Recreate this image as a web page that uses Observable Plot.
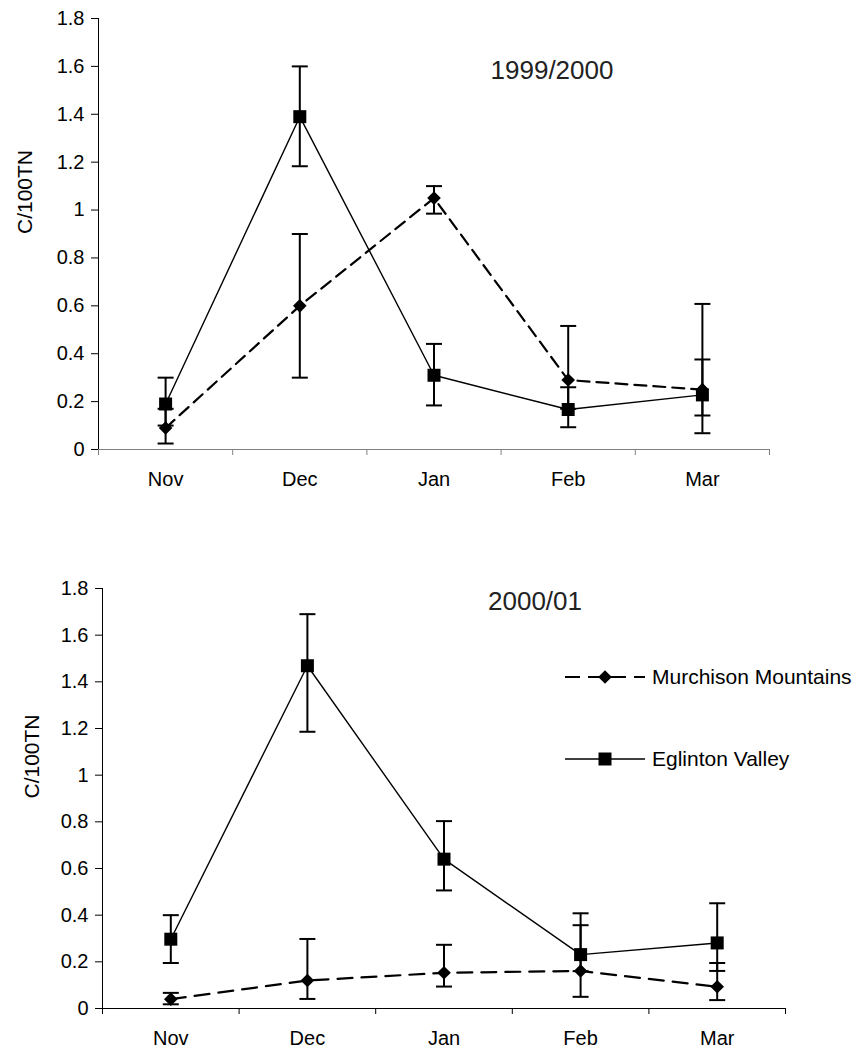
<!DOCTYPE html>
<html><head><meta charset="utf-8">
<script src="https://cdn.jsdelivr.net/npm/d3@7"></script>
<script src="https://cdn.jsdelivr.net/npm/@observablehq/plot@0.6"></script>
<style>
body{margin:0;background:#fff;}
#wrap{position:relative;width:856px;height:1052px;font-family:"Liberation Sans",Arial,sans-serif;}
#wrap svg{display:block;}
.legend{position:absolute;left:565px;top:657px;font-size:21px;color:#000;}
.legend .row{display:flex;align-items:center;height:40px;}
.legend .row + .row{margin-top:42px;}
.legend .row span{margin-left:7px;}
</style></head><body><div id="wrap"></div>
<script>
const months = ["Nov","Dec","Jan","Feb","Mar"];
const yTicks = [0,0.2,0.4,0.6,0.8,1,1.2,1.4,1.6,1.8];
const seriesNames = ["Murchison Mountains","Eglinton Valley"];
const yLabel = "C/100TN";

// 1999/2000
const title1 = "1999/2000";
const murch1 = [0.09,0.60,1.05,0.29,0.25];
const murch1Lo = [0.025,0.30,0.985,0.17,0.142];
const murch1Hi = [0.17,0.90,1.10,0.516,0.608];
const eglin1 = [0.19,1.39,0.31,0.167,0.228];
const eglin1Lo = [0.10,1.183,0.184,0.093,0.068];
const eglin1Hi = [0.30,1.60,0.441,0.26,0.376];

// 2000/01
const title2 = "2000/01";
const murch2 = [0.04,0.12,0.153,0.161,0.093];
const murch2Lo = [0.018,0.041,0.094,0.05,0.036];
const murch2Hi = [0.067,0.298,0.273,0.357,0.195];
const eglin2 = [0.297,1.469,0.64,0.231,0.281];
const eglin2Lo = [0.195,1.186,0.506,0.16,0.161];
const eglin2Hi = [0.40,1.69,0.803,0.408,0.451];

const capSym = {draw(ctx){ ctx.moveTo(-8,0); ctx.lineTo(8,0); }};
const squareSym = {draw(ctx){ const h=6.5; ctx.rect(-h,-h,2*h,2*h); }};
const diamondSym = {draw(ctx){ const h=6.8; ctx.moveTo(0,-h); ctx.lineTo(h,0); ctx.lineTo(0,h); ctx.lineTo(-h,0); ctx.closePath(); }};

function panel(o){
  const rows = [];
  months.forEach((m,i)=>{
    rows.push({series:seriesNames[0], xi:i+0.5, v:o.murch[i], lo:o.murchLo[i], hi:o.murchHi[i]});
    rows.push({series:seriesNames[1], xi:i+0.5, v:o.eglin[i], lo:o.eglinLo[i], hi:o.eglinHi[i]});
  });
  const M = rows.filter(d=>d.series===seriesNames[0]);
  const E = rows.filter(d=>d.series===seriesNames[1]);
  return Plot.plot({
    width:856, height:o.height,
    marginTop:o.mt, marginBottom:o.mb, marginLeft:o.ml, marginRight:o.mr,
    x:{type:"linear", domain:[0,months.length]},
    y:{type:"linear", domain:[0,1.8]},
    style:{fontFamily:'"Liberation Sans",Arial,sans-serif', fontSize:"20px", color:"#000", background:"#fff", overflow:"visible"},
    marks:[
      Plot.axisY({ticks:yTicks, tickSize:7, tickPadding:7, tickFormat:d3.format("~g"), fontSize:20, label:null, stroke:"#000"}),
      Plot.axisX({ticks:d3.range(months.length+1), tickSize:6, tickFormat:()=>"", label:null, stroke:o.xColor}),
      Plot.axisX({ticks:months.map((m,i)=>i+0.5), tickSize:0, tickPadding:22, tickFormat:d=>months[Math.floor(d)], fontSize:20, label:null}),
      Plot.frame({anchor:"left", stroke:"#000"}),
      Plot.frame({anchor:"bottom", stroke:o.xColor}),
      Plot.text([o.title], {frameAnchor:"top", dx:o.tdx, dy:o.tdy, fontSize:26, fill:"#222"}),
      Plot.text([yLabel], {frameAnchor:"left", rotate:-90, dx:o.ldx, fontSize:21}),
      Plot.line(M, {x:"xi", y:"v", stroke:"#000", strokeWidth:2.2, strokeDasharray:o.dash}),
      Plot.line(E, {x:"xi", y:"v", stroke:"#000", strokeWidth:1.4}),
      Plot.ruleX(rows, {x:"xi", y1:"lo", y2:"hi", stroke:"#000", strokeWidth:2}),
      Plot.dot(rows, {x:"xi", y:"lo", symbol:capSym, fill:"none", stroke:"#000", strokeWidth:2}),
      Plot.dot(rows, {x:"xi", y:"hi", symbol:capSym, fill:"none", stroke:"#000", strokeWidth:2}),
      Plot.dot(M, {x:"xi", y:"v", symbol:diamondSym, fill:"#000", stroke:"none"}),
      Plot.dot(E, {x:"xi", y:"v", symbol:squareSym, fill:"#000", stroke:"none"})
    ]
  });
}

const wrap = document.getElementById("wrap");
wrap.appendChild(panel({title:title1, murch:murch1, murchLo:murch1Lo, murchHi:murch1Hi, eglin:eglin1, eglinLo:eglin1Lo, eglinHi:eglin1Hi,
  height:500, mt:18, mb:51, ml:98, mr:87, xColor:"#808080", tdx:118, tdy:42, ldx:-73, dash:"12,7"}));
wrap.appendChild(panel({title:title2, murch:murch2, murchLo:murch2Lo, murchHi:murch2Hi, eglin:eglin2, eglinLo:eglin2Lo, eglinHi:eglin2Hi,
  height:552, mt:88, mb:44, ml:102, mr:71, xColor:"#000", tdx:91, tdy:3, ldx:-70, dash:"15,9"}));

// legend
const legend = d3.select(wrap).append("div").attr("class","legend");
const styles = [{dash:"15,8", w:2, sym:diamondSym}, {dash:null, w:1.4, sym:squareSym}];
seriesNames.forEach((name,i)=>{
  const row = legend.append("div").attr("class","row");
  const svg = row.append("svg").attr("width",80).attr("height",20);
  const ln = svg.append("line").attr("x1",0).attr("x2",80).attr("y1",10).attr("y2",10)
    .attr("stroke","#000").attr("stroke-width",styles[i].w);
  if (styles[i].dash) ln.attr("stroke-dasharray",styles[i].dash);
  svg.append("path").attr("transform","translate(40,10)").attr("d", d3.symbol(styles[i].sym)()).attr("fill","#000");
  row.append("span").text(name);
});
</script>
</body></html>
